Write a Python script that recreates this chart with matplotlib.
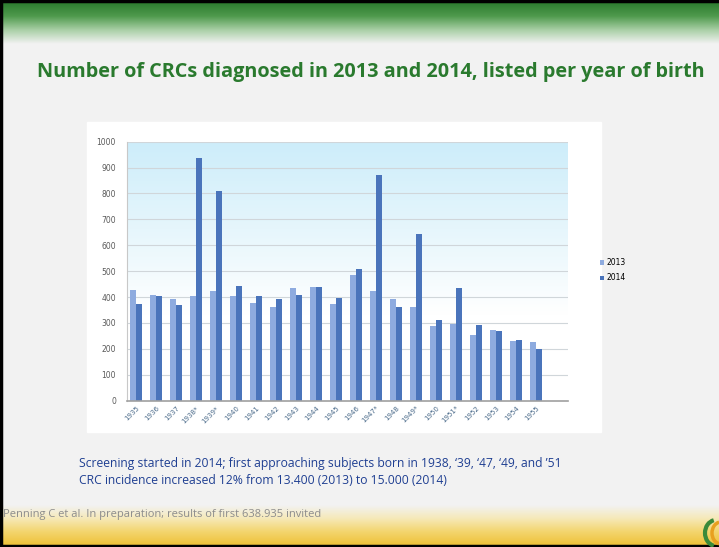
import numpy as np
import matplotlib
matplotlib.use("Agg")
import matplotlib.pyplot as plt
from matplotlib.patches import Rectangle, Arc
from matplotlib.colors import LinearSegmentedColormap

# Data
birth_years = ["1935", "1936", "1937", "1938*", "1939*", "1940", "1941", "1942", "1943", "1944",
               "1945", "1946", "1947*", "1948", "1949*", "1950", "1951*", "1952", "1953", "1954", "1955"]
crc_2013 = [428, 410, 392, 405, 425, 406, 379, 363, 436, 440, 375, 487, 423, 391, 361, 290, 297, 255, 272, 230, 225]
crc_2014 = [373, 405, 368, 936, 810, 444, 403, 392, 410, 440, 396, 510, 872, 361, 642, 311, 435, 293, 268, 236, 198]
series_names = ["2013", "2014"]

W, H = 719, 547
fig = plt.figure(figsize=(W / 100, H / 100), dpi=100)

# Slide background layer in pixel coordinates
bg = fig.add_axes([0, 0, 1, 1], zorder=0)
bg.set_xlim(0, W)
bg.set_ylim(H, 0)
bg.axis("off")
bg.add_patch(Rectangle((0, 0), W, H, color="#f2f2f2", zorder=0))

# green band at top
green = LinearSegmentedColormap.from_list("g", ["#2b7a2e", "#4f9a4d", "#a9cfa6", "#f2f2f2"])
bg.imshow(np.linspace(0, 1, 100).reshape(-1, 1), cmap=green, extent=(0, W, 44, 2),
          aspect="auto", zorder=1)
# yellow band at bottom
yellow = LinearSegmentedColormap.from_list("y", ["#f2f2f2", "#f6e9b8", "#f3d56e", "#efc23a"])
bg.imshow(np.linspace(0, 1, 100).reshape(-1, 1), cmap=yellow, extent=(0, W, 545, 505),
          aspect="auto", zorder=1)

# slide border
bg.plot([1, 1], [0, H], color="black", lw=2.5, zorder=3)
bg.plot([0, W], [1, 1], color="black", lw=2.5, zorder=3)
bg.plot([0, W], [H - 1, H - 1], color="black", lw=2.5, zorder=3)

# white chart frame
bg.add_patch(Rectangle((87, 122), 514, 310, color="white", zorder=2))

# logo
bg.add_patch(Arc((716, 533), 22, 26, theta1=100, theta2=260, color="#3a8a3a", lw=3, zorder=4))
bg.add_patch(Arc((721, 533), 18, 22, theta1=100, theta2=260, color="#e8a020", lw=2.5, zorder=4))

# title and notes
fig.text(371 / W, 1 - 72 / H, "Number of CRCs diagnosed in 2013 and 2014, listed per year of birth",
         ha="center", va="center", fontsize=14.3, fontweight="bold", color="#2a7a2e",
         family="Open Sans")
fig.text(79 / W, 1 - 464 / H,
         "Screening started in 2014; first approaching subjects born in 1938, \u201839, \u201847, \u201849, and \u201951",
         ha="left", va="center", fontsize=8.7, color="#1f3f92", family="Open Sans")
fig.text(79 / W, 1 - 481 / H, "CRC incidence increased 12% from 13.400 (2013) to 15.000 (2014)",
         ha="left", va="center", fontsize=8.7, color="#1f3f92", family="Open Sans")
fig.text(3 / W, 1 - 515 / H, "Penning C et al. In preparation; results of first 638.935 invited",
         ha="left", va="center", fontsize=8, color="#8c8c8c", family="Open Sans")

# Bar chart
ax = fig.add_axes([127 / W, 1 - 400.7 / H, (568 - 127) / W, (400.7 - 141.7) / H], zorder=2)
ax.patch.set_visible(False)

x = np.arange(len(birth_years))
xmin, xmax = -0.45, 21.6
ax.set_xlim(xmin, xmax)
ax.set_ylim(0, 1000)

sky = LinearSegmentedColormap.from_list("s", ["#ffffff", "#ffffff", "#e6f6fc", "#cdedfa"])
ax.imshow(np.linspace(0, 1, 200).reshape(-1, 1), cmap=sky, extent=(xmin, xmax, 0, 1000),
          aspect="auto", origin="lower", zorder=0)

for v in range(100, 1001, 100):
    ax.axhline(v, color="#d0d6da", lw=0.8, zorder=1)

w = 0.3
ax.bar(x - w / 2, crc_2013, width=w, color="#8eabdf", label=series_names[0], zorder=2)
ax.bar(x + w / 2, crc_2014, width=w, color="#4a74bb", label=series_names[1], zorder=2)

ax.set_yticks(range(0, 1001, 100))
ax.set_xticks(x)
ax.set_xticklabels(birth_years, rotation=45, ha="right", rotation_mode="anchor")
ax.tick_params(axis="y", labelsize=5.5, labelcolor="#595959", length=0, pad=8)
ax.tick_params(axis="x", labelsize=5, labelcolor="#4a6a8a", length=0, pad=3)

for s in ["top", "right"]:
    ax.spines[s].set_visible(False)
ax.spines["left"].set_color("#c8c8c8")
ax.spines["bottom"].set_color("#a0a0a0")
ax.spines["bottom"].set_linewidth(1.2)

ax.legend(loc="center left", bbox_to_anchor=(1.0, 0.503), frameon=False, fontsize=5.5,
          handlelength=0.5, handleheight=0.5, handletextpad=0.3, labelspacing=0.8,
          borderaxespad=3.8)

fig.savefig("out.png", dpi=100)
